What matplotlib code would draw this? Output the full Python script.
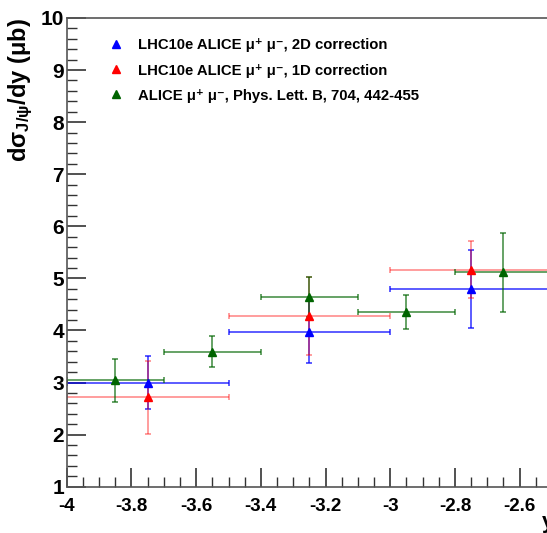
import matplotlib
matplotlib.use("Agg")
import matplotlib.pyplot as plt
from matplotlib.lines import Line2D
from matplotlib.ticker import MultipleLocator, FuncFormatter

plt.rcParams['font.family'] = ['Liberation Sans', 'DejaVu Sans']
plt.rcParams['mathtext.fontset'] = 'custom'
plt.rcParams['mathtext.rm'] = 'Liberation Sans:bold'
plt.rcParams['mathtext.it'] = 'Liberation Sans:bold'
plt.rcParams['mathtext.bf'] = 'Liberation Sans:bold'

# LHC10e, 2D correction
y_2d = [-3.75, -3.25, -2.75]
xerr_2d = [0.25, 0.25, 0.25]
val_2d = [3.00, 3.97, 4.80]
err_2d = [0.51, 0.59, 0.75]

# LHC10e, 1D correction
y_1d = [-3.75, -3.25, -2.75]
xerr_1d = [0.25, 0.25, 0.25]
val_1d = [2.72, 4.27, 5.17]
err_1d = [0.70, 0.75, 0.54]

# ALICE PLB 704
y_plb = [-3.85, -3.55, -3.25, -2.95, -2.65]
xerr_plb = [0.15, 0.15, 0.15, 0.15, 0.15]
val_plb = [3.04, 3.59, 4.64, 4.35, 5.12]
err_plb = [0.41, 0.30, 0.38, 0.33, 0.76]

labels = ["LHC10e ALICE \u03bc\u207a \u03bc\u207b, 2D correction",
          "LHC10e ALICE \u03bc\u207a \u03bc\u207b, 1D correction",
          "ALICE \u03bc\u207a \u03bc\u207b, Phys. Lett. B, 704, 442-455"]
colors = ["#0000ff", "#ff0000", "#006400"]

fig = plt.figure(figsize=(5.47, 5.33), dpi=100)
ax = fig.add_axes([0.1221, 0.0869, 0.887, 0.8794])

series = [(y_2d, xerr_2d, val_2d, err_2d, 0.75),
          (y_1d, xerr_1d, val_1d, err_1d, 0.45),
          (y_plb, xerr_plb, val_plb, err_plb, 0.7)]
for (x, xe, v, ve, a), c in zip(series, colors):
    ax.errorbar(x, v, xerr=xe, yerr=ve, fmt='none', ecolor=c, elinewidth=1.2,
                capsize=2, capthick=1.2, alpha=a)
    ax.plot(x, v, linestyle='none', marker='^', color=c, markersize=6, zorder=5)

ax.set_xlim(-4, -2.5)
ax.set_ylim(1, 10)
ax.xaxis.set_major_locator(MultipleLocator(0.2))
ax.xaxis.set_minor_locator(MultipleLocator(0.05))
ax.yaxis.set_major_locator(MultipleLocator(1))
ax.yaxis.set_minor_locator(MultipleLocator(0.2))
ax.xaxis.set_major_formatter(FuncFormatter(lambda v, p: f"{v:g}"))
ax.tick_params(which='both', direction='in', top=False, right=False, color='#333333')
ax.tick_params(which='major', length=14, width=1.2)
ax.tick_params(which='minor', length=7, width=1.0)
ax.tick_params(axis='x', labelsize=13.5, pad=8)
ax.tick_params(axis='y', labelsize=15, pad=2)
for lab in ax.get_xticklabels() + ax.get_yticklabels():
    lab.set_fontweight('bold')
for s in ['left', 'bottom', 'top']:
    ax.spines[s].set_color('#555555')
    ax.spines[s].set_linewidth(1.2)
ax.spines['right'].set_visible(False)

ax.set_ylabel("d\u03c3$_{\\mathrm{J/\u03c8}}$/dy (\u03bcb)", fontsize=17, fontweight='bold',
              loc='top', labelpad=4)
fig.text(0.99, 0.02, "y", fontsize=16, fontweight='bold', ha='left', va='center')

handles = [Line2D([], [], linestyle='none', marker='^', color=c, markersize=6) for c in colors]
leg = ax.legend(handles, labels, loc='upper left', bbox_to_anchor=(0.055, 0.985), frameon=False,
                prop={'weight': 'bold', 'size': 10.7}, handlelength=1.2, handletextpad=0.9,
                labelspacing=0.75)

fig.savefig("out.png", dpi=100)
